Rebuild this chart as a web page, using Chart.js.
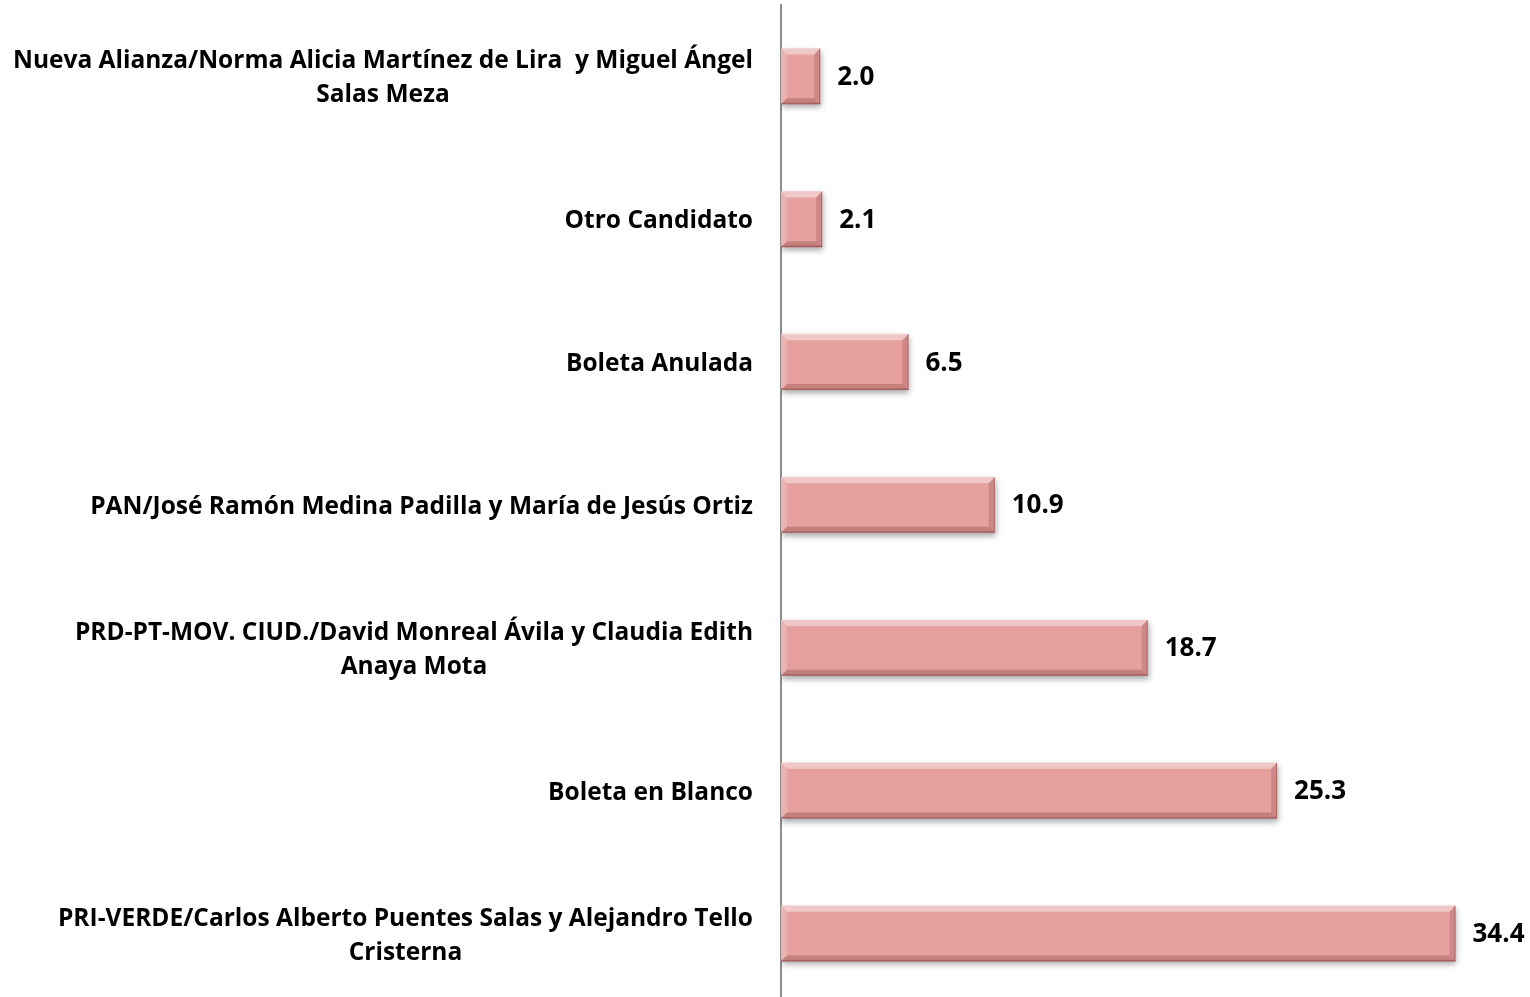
<!DOCTYPE html>
<html lang="es">
<head>
    <meta charset="UTF-8">
    <title>Preferencia electoral</title>
    <script src="https://cdn.jsdelivr.net/npm/chart.js"></script>
    <style>
        body {
            margin: 0;
            background: #ffffff;
            overflow: hidden;
        }
        .wrap {
            width: 1530px;
            height: 1005px;
        }
    </style>
</head>
<body>
    <div class="wrap">
        <canvas id="votos" width="1530" height="1005"></canvas>
    </div>

    <script>
        // categorias (de arriba hacia abajo), cada renglon es una linea del texto
        const categorias = [
            ['Nueva Alianza/Norma Alicia Martínez de Lira  y Miguel Ángel', 'Salas Meza'],
            ['Otro Candidato'],
            ['Boleta Anulada'],
            ['PAN/José Ramón Medina Padilla y María de Jesús Ortiz'],
            ['PRD-PT-MOV. CIUD./David Monreal Ávila y Claudia Edith', 'Anaya Mota'],
            ['Boleta en Blanco'],
            ['PRI-VERDE/Carlos Alberto Puentes Salas y Alejandro Tello', 'Cristerna']
        ];
        const porcentajes = [2.0, 2.1, 6.5, 10.9, 18.7, 25.3, 34.4];

        const colorBarra = '#e6a19f';
        const fuente = '"Open Sans", Lato, sans-serif';

        // sombra bajo las barras
        const sombra = {
            id: 'sombra',
            beforeDatasetDraw(chart) {
                const c = chart.ctx;
                c.save();
                c.shadowColor = 'rgba(0,0,0,0.35)';
                c.shadowBlur = 6;
                c.shadowOffsetX = 1;
                c.shadowOffsetY = 3;
            },
            afterDatasetDraw(chart) {
                chart.ctx.restore();
            }
        };

        // bisel de las barras y valores al final
        const bisel = {
            id: 'bisel',
            afterDatasetsDraw(chart) {
                const c = chart.ctx;
                const meta = chart.getDatasetMeta(0);
                meta.data.forEach((bar, i) => {
                    const l = Math.min(bar.base, bar.x), r = Math.max(bar.base, bar.x);
                    const t = bar.y - bar.height / 2, b = bar.y + bar.height / 2;
                    const d = Math.min(6, (r - l) / 2);
                    const poly = (pts, fill) => {
                        c.beginPath();
                        c.moveTo(pts[0][0], pts[0][1]);
                        pts.slice(1).forEach(p => c.lineTo(p[0], p[1]));
                        c.closePath();
                        c.fillStyle = fill;
                        c.fill();
                    };
                    c.save();
                    poly([[l, t], [r, t], [r - d, t + d], [l + d, t + d]], 'rgba(255,255,255,0.42)');
                    poly([[l, t], [l + d, t + d], [l + d, b - d], [l, b]], 'rgba(255,255,255,0.18)');
                    poly([[r, t], [r, b], [r - d, b - d], [r - d, t + d]], 'rgba(110,40,40,0.20)');
                    poly([[l, b], [l + d, b - d], [r - d, b - d], [r, b]], 'rgba(110,40,40,0.28)');
                    c.fillStyle = 'rgba(110,40,40,0.35)';
                    c.fillRect(l, b - 1.5, r - l, 1.5);
                    c.fillRect(r - 1, t, 1, b - t);

                    c.fillStyle = '#000000';
                    c.font = 'bold 26px ' + fuente;
                    c.textAlign = 'left';
                    c.textBaseline = 'middle';
                    c.fillText(porcentajes[i].toFixed(1), r + 17, bar.y + 1);
                    c.restore();
                });
            }
        };

        // etiquetas del eje: bloque alineado a la derecha, renglones centrados
        const etiquetas = {
            id: 'etiquetas',
            afterDraw(chart) {
                const c = chart.ctx;
                const eje = chart.scales.y;
                const derecha = eje.right - 28;
                const alto = 34;
                c.save();
                c.font = 'bold 24.5px ' + fuente;
                c.fillStyle = '#000000';
                c.textAlign = 'center';
                c.textBaseline = 'middle';
                categorias.forEach((lineas, i) => {
                    const yc = eje.getPixelForTick(i) + 2;
                    const ancho = Math.max(...lineas.map(s => c.measureText(s).width));
                    const xc = derecha - ancho / 2;
                    const y0 = yc - (lineas.length - 1) * alto / 2;
                    lineas.forEach((s, k) => c.fillText(s, xc, y0 + k * alto));
                });
                c.restore();
            }
        };

        const ctx = document.getElementById('votos').getContext('2d');

        const grafica = new Chart(ctx, {
            type: 'bar',
            data: {
                labels: categorias.map(l => l.join(' ')),
                datasets: [{
                    data: porcentajes,
                    backgroundColor: colorBarra,
                    borderWidth: 0,
                    categoryPercentage: 1,
                    barPercentage: 0.39
                }]
            },
            options: {
                indexAxis: 'y',
                responsive: false,
                animation: false,
                layout: { padding: { top: 5, right: 0, bottom: 0, left: 0 } },
                scales: {
                    x: {
                        display: false,
                        min: 0,
                        max: 38.2
                    },
                    y: {
                        afterFit(scale) { scale.width = 781; },
                        grid: { display: false, drawTicks: false },
                        border: { display: true, color: '#8c8c8c', width: 2 },
                        ticks: { display: false }
                    }
                },
                plugins: {
                    legend: { display: false },
                    tooltip: { enabled: false }
                }
            },
            plugins: [sombra, bisel, etiquetas]
        });
    </script>
</body>
</html>
